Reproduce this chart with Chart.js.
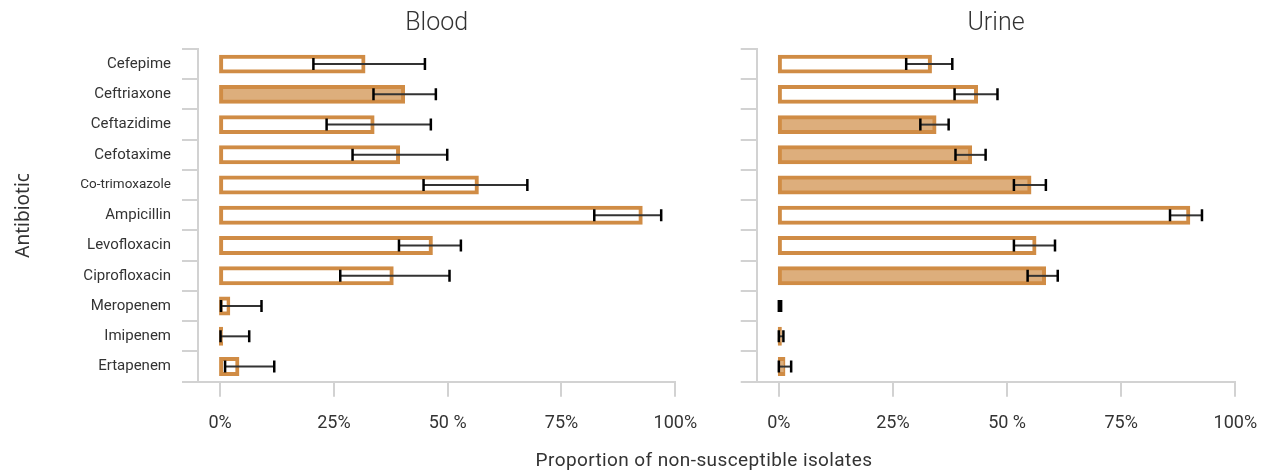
<!DOCTYPE html>
<html>
<head>
<meta charset="utf-8">
<script src="https://cdn.jsdelivr.net/npm/chart.js@4.4.1/dist/chart.umd.min.js"></script>
<style>
  body { margin: 0; background: #fff; }
  #wrap { position: relative; width: 1265px; height: 470px; overflow: hidden; }
  #blood { position: absolute; left: 0; top: 0; }
  #urine { position: absolute; left: 700px; top: 0; }
  #xtitle {
    position: absolute; left: 704px; top: 450px; transform: translateX(-50%);
    font-family: Roboto; font-size: 19px; line-height: 1; color: #333;
    white-space: nowrap; letter-spacing: 0.4px;
  }
</style>
</head>
<body>
<div id="wrap">
  <canvas id="blood" width="700" height="470"></canvas>
  <canvas id="urine" width="565" height="470"></canvas>
  <div id="xtitle">Proportion of non-susceptible isolates</div>
</div>
<script>
const antibiotics = ["Cefepime", "Ceftriaxone", "Ceftazidime", "Cefotaxime", "Co-trimoxazole",
  "Ampicillin", "Levofloxacin", "Ciprofloxacin", "Meropenem", "Imipenem", "Ertapenem"];

// percent non-susceptible, with 95% interval
const bloodValues = [31.5, 40.2, 33.5, 39.1, 56.4, 92.4, 46.3, 37.7, 1.8, 0.2, 3.8];
const bloodLower  = [20.5, 33.7, 23.4, 29.1, 44.7, 82.2, 39.3, 26.4, 0.2, 0.1, 1.1];
const bloodUpper  = [45.0, 47.4, 46.3, 49.9, 67.5, 96.9, 52.9, 50.4, 9.1, 6.4, 11.9];
const bloodFilled = [false, true, false, false, false, false, false, false, false, true, false];

const urineValues = [33.1, 43.2, 34.1, 41.9, 54.9, 89.7, 56.0, 58.1, null, 0.2, 1.0];
const urineLower  = [27.9, 38.5, 31.0, 38.7, 51.5, 85.7, 51.5, 54.5, 0, 0, 0];
const urineUpper  = [38.0, 47.9, 37.2, 45.3, 58.5, 92.7, 60.5, 61.1, 0.5, 1.0, 2.7];
const urineFilled = [false, false, true, true, true, false, false, true, false, true, true];

const xTicks = [0, 25, 50, 75, 100];

const ORANGE = "#D08C45";
const LIGHT = "#DDAE7C";
const AXIS = "#d2d2d2";

Chart.defaults.font.family = "Roboto";
Chart.defaults.color = "#333";

function errorBars(lower, upper) {
  return {
    id: "errorBars",
    afterDatasetsDraw(chart) {
      const { ctx, scales } = chart;
      ctx.save();
      lower.forEach((lo, i) => {
        const y = scales.y.getPixelForValue(i);
        const x1 = scales.x.getPixelForValue(lo);
        const x2 = scales.x.getPixelForValue(upper[i]);
        ctx.strokeStyle = "#333";
        ctx.lineWidth = 2;
        ctx.beginPath();
        ctx.moveTo(x1, y);
        ctx.lineTo(x2, y);
        ctx.stroke();
        ctx.strokeStyle = "#000";
        ctx.lineWidth = 2.5;
        ctx.beginPath();
        ctx.moveTo(x1, y - 6);
        ctx.lineTo(x1, y + 6);
        ctx.moveTo(x2, y - 6);
        ctx.lineTo(x2, y + 6);
        ctx.stroke();
      });
      ctx.restore();
    }
  };
}

function makeChart(id, title, values, filled, lower, upper, showLabels, yWidth, padRight) {
  return new Chart(document.getElementById(id), {
    type: "bar",
    data: {
      labels: antibiotics,
      datasets: [{
        data: values,
        backgroundColor: filled.map(f => f ? LIGHT : "#ffffff"),
        borderColor: ORANGE,
        borderWidth: 4,
        borderSkipped: false,
        inflateAmount: 2,   // border centred on the bar edge
        categoryPercentage: 1,
        barPercentage: 0.495
      }]
    },
    options: {
      indexAxis: "y",
      responsive: false,
      animation: false,
      layout: { padding: { left: 0, right: padRight, top: 0, bottom: 0 } },
      plugins: {
        legend: { display: false },
        tooltip: { enabled: false },
        title: {
          display: true,
          text: title,
          fullSize: false,
          color: "#333",
          font: { size: 25, weight: "300" },
          padding: { top: 9, bottom: 10 }
        }
      },
      scales: {
        x: {
          min: -4.85,
          max: 100,
          afterBuildTicks(s) { s.ticks = xTicks.map(v => ({ value: v })); },
          afterFit(s) {
            s.height = 88.3;
            s.paddingLeft = 0;
            s.paddingRight = 0;
          },
          grid: { drawOnChartArea: false, tickLength: 15, color: AXIS, lineWidth: 2 },
          border: { color: AXIS, width: 2 },
          ticks: {
            padding: 16,
            autoSkip: false,
            maxRotation: 0,
            color: "#333",
            font: { size: 18 },
            callback: v => v === 50 ? "50 %" : v + "%"
          }
        },
        y: {
          offset: true,
          afterFit(s) { s.width = yWidth; },
          grid: { offset: true, drawOnChartArea: false, tickLength: 16, color: AXIS, lineWidth: 2 },
          border: { color: AXIS, width: 2 },
          ticks: {
            display: showLabels,
            padding: 11,
            color: "#333",
            font: ctx => ({ size: antibiotics[ctx.index] === "Co-trimoxazole" ? 13.5 : 15 })
          },
          title: {
            display: showLabels,
            text: "Antibiotic",
            color: "#333",
            font: { size: 19, family: "Noto Sans" },
            padding: { top: 12 }
          }
        }
      }
    },
    plugins: [errorBars(lower, upper)]
  });
}

makeChart("blood", "Blood", bloodValues, bloodFilled, bloodLower, bloodUpper, true, 198, 24.7);
makeChart("urine", "Urine", urineValues, urineFilled, urineLower, urineUpper, false, 56.7, 29.7);
</script>
</body>
</html>
